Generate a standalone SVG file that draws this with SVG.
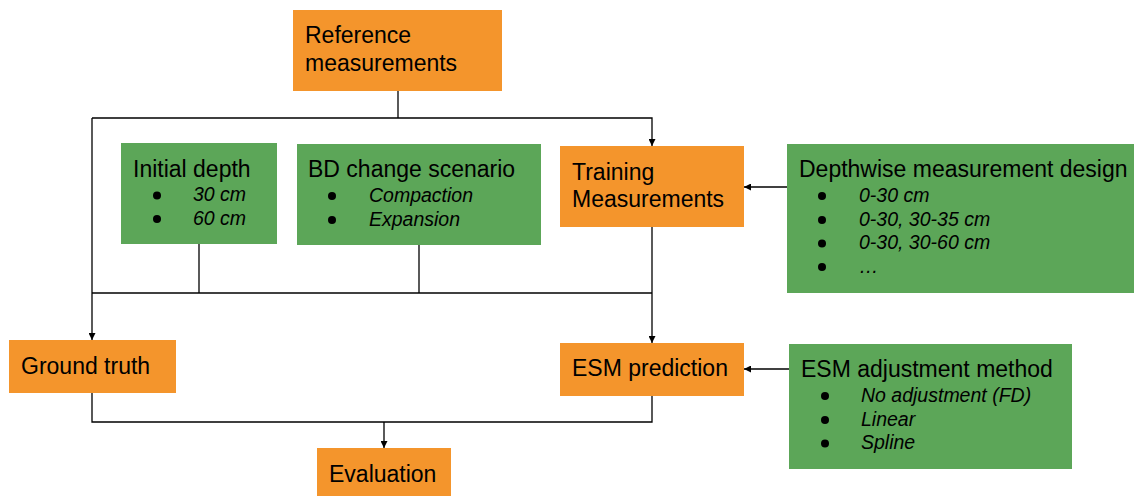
<svg xmlns="http://www.w3.org/2000/svg" width="1135" height="496" viewBox="0 0 1135 496">
<style>
.o{fill:#f4952c}
.g{fill:#5ca658}
.t{font-family:"Liberation Sans",Arial,sans-serif;font-size:23px;fill:#000}
.i{font-family:"Liberation Sans",Arial,sans-serif;font-size:19.5px;font-style:italic;fill:#000}
.ln{fill:none;stroke:#000;stroke-width:1.3}
.b{fill:#000}
</style>
<defs>
<marker id="ah" viewBox="0 0 10 10" refX="10" refY="5" markerWidth="7" markerHeight="7" markerUnits="userSpaceOnUse" orient="auto">
<path d="M0,0 L10,5 L0,10 z" fill="#000"/>
</marker>
</defs>
<rect width="1135" height="496" fill="#fff"/>
<g id="connectors">
<path class="ln" d="M398,91 V118"/>
<path class="ln" d="M92,118 H652 V146" marker-end="url(#ah)"/>
<path class="ln" d="M92,118 V340" marker-end="url(#ah)"/>
<path class="ln" d="M199,244 V293"/>
<path class="ln" d="M419,245 V293"/>
<path class="ln" d="M92,293 H652"/>
<path class="ln" d="M652,227 V343" marker-end="url(#ah)"/>
<path class="ln" d="M787,187 H744" marker-end="url(#ah)"/>
<path class="ln" d="M789,369 H744" marker-end="url(#ah)"/>
<path class="ln" d="M92,393 V422 H652 V396"/>
<path class="ln" d="M384,422 V448" marker-end="url(#ah)"/>
</g>
<g id="reference">
<rect class="o" x="293" y="10" width="209" height="81"/>
<text class="t" x="305" y="43">Reference</text>
<text class="t" x="305" y="71">measurements</text>
</g>
<g id="initial-depth">
<rect class="g" x="121" y="143" width="156" height="101"/>
<text class="t" x="133" y="177">Initial depth</text>
<circle class="b" cx="157" cy="195.5" r="4"/>
<circle class="b" cx="157" cy="219" r="4"/>
<text class="i" x="193" y="201">30 cm</text>
<text class="i" x="193" y="225">60 cm</text>
</g>
<g id="bd-change">
<rect class="g" x="297" y="144" width="244" height="101"/>
<text class="t" x="308" y="177">BD change scenario</text>
<circle class="b" cx="332" cy="196" r="4"/>
<circle class="b" cx="332" cy="220" r="4"/>
<text class="i" x="369" y="202">Compaction</text>
<text class="i" x="369" y="226">Expansion</text>
</g>
<g id="training">
<rect class="o" x="560" y="146" width="184" height="81"/>
<text class="t" x="572" y="180">Training</text>
<text class="t" x="572" y="207">Measurements</text>
</g>
<g id="depthwise">
<rect class="g" x="787" y="144" width="347" height="149"/>
<text class="t" x="799" y="177">Depthwise measurement design</text>
<circle class="b" cx="822" cy="196" r="4"/>
<circle class="b" cx="822" cy="220" r="4"/>
<circle class="b" cx="822" cy="243.5" r="4"/>
<circle class="b" cx="822" cy="267" r="4"/>
<text class="i" x="859" y="202">0-30 cm</text>
<text class="i" x="859" y="226">0-30, 30-35 cm</text>
<text class="i" x="859" y="249">0-30, 30-60 cm</text>
<text class="i" x="859" y="273">…</text>
</g>
<g id="ground-truth">
<rect class="o" x="9" y="340" width="167" height="53"/>
<text class="t" x="21" y="374">Ground truth</text>
</g>
<g id="esm-prediction">
<rect class="o" x="560" y="343" width="184" height="53"/>
<text class="t" x="572" y="376">ESM prediction</text>
</g>
<g id="esm-adjustment">
<rect class="g" x="789" y="344" width="283" height="125"/>
<text class="t" x="801" y="377">ESM adjustment method</text>
<circle class="b" cx="825" cy="396" r="4"/>
<circle class="b" cx="825" cy="420" r="4"/>
<circle class="b" cx="825" cy="443.5" r="4"/>
<text class="i" x="861" y="402">No adjustment (FD)</text>
<text class="i" x="861" y="426">Linear</text>
<text class="i" x="861" y="449">Spline</text>
</g>
<g id="evaluation">
<rect class="o" x="317" y="448" width="134" height="48"/>
<text class="t" x="329" y="482">Evaluation</text>
</g>
</svg>
